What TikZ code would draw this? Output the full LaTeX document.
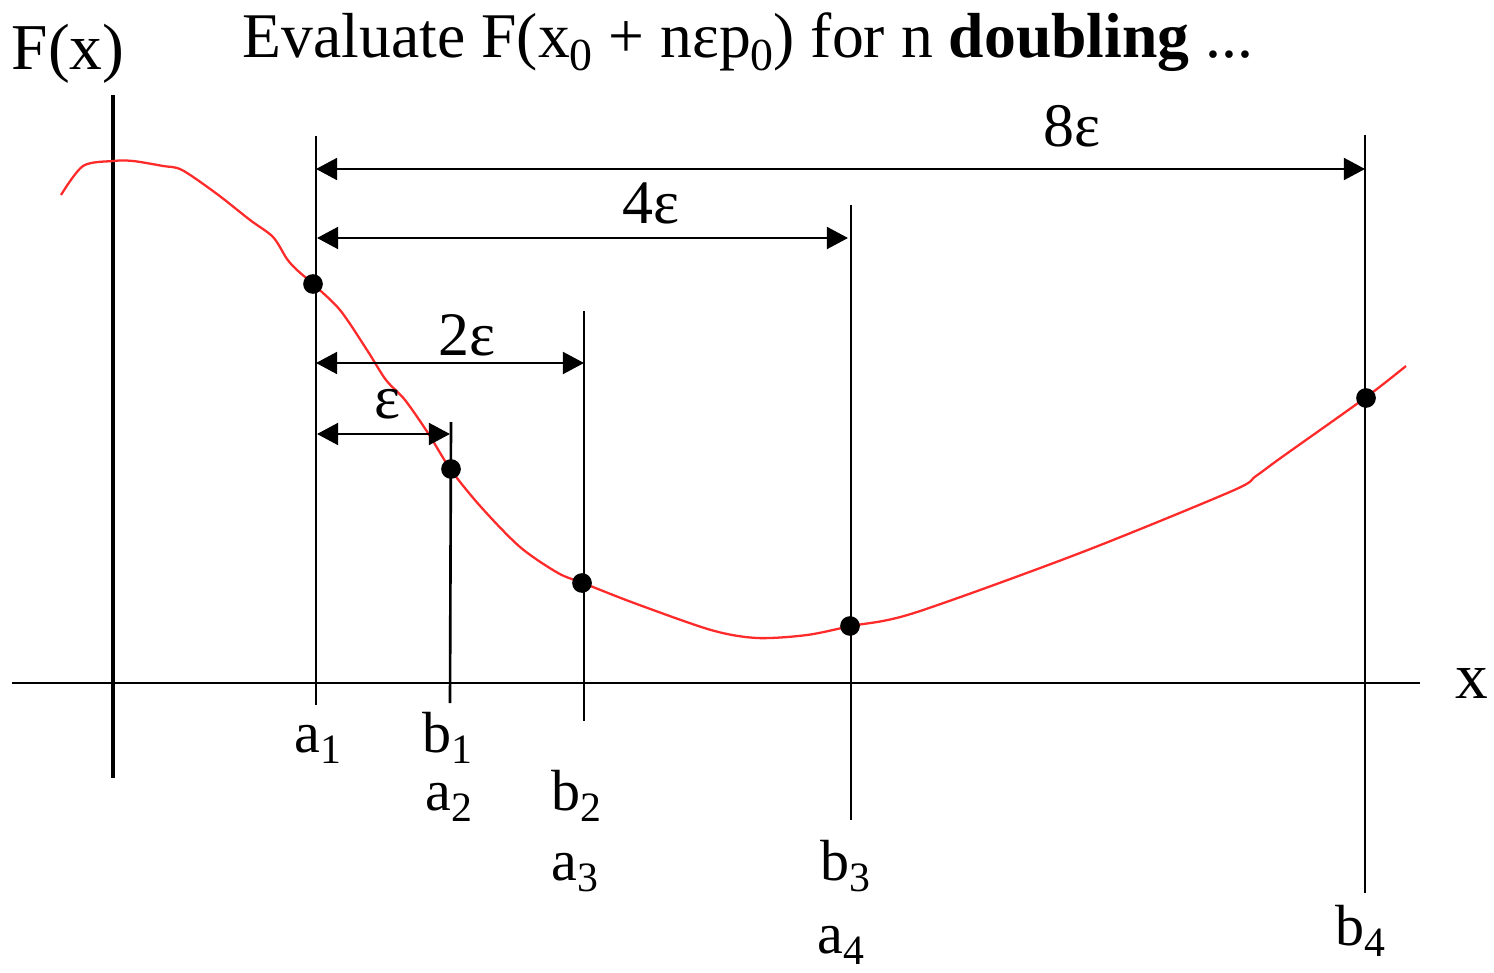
\documentclass[tikz,border=0pt]{standalone}
\usepackage{fontspec}
\setmainfont{Liberation Serif}
\usetikzlibrary{arrows.meta}
\definecolor{curvered}{HTML}{FF2A2A}
\newcommand{\lowix}[1]{\raisebox{-0.2em}{\scalebox{0.72}{#1}}}

\begin{document}
\begin{tikzpicture}[x=0.01cm, y=-0.01cm,
    font=\fontsize{16.5}{19}\selectfont,
    guide/.style={line width=0.75pt},
    dimarrow/.style={line width=0.75pt, {Triangle[length=6pt,width=6.2pt]}-{Triangle[length=6pt,width=6.2pt]}},
    dot/.style={circle, fill=black, inner sep=0pt, minimum size=5.6pt},
    bigtxt/.style={font=\fontsize{18.6}{22}\selectfont},
    steplbl/.style={anchor=base, font=\fontsize{17.6}{20}\selectfont}]
  \useasboundingbox (0,0) rectangle (1494,973);

  % Title
  \node[anchor=base, font=\fontsize{18.1}{20}\selectfont] (title) at (748,58)
    {Evaluate F(x\lowix{0} + nεp\lowix{0}) for n \textbf{doubling} ...};

  % Axes
  \coordinate (ytop) at (113,95);
  \coordinate (ybot) at (113,778);
  \coordinate (xleft) at (12,683);
  \coordinate (xright) at (1420,683);
  \draw[line width=1.25pt] (ybot) -- (ytop);
  \draw[guide] (xleft) -- (xright);
  \node[bigtxt, anchor=base] (fxlbl) at (68,70) {F(x)};
  \node[bigtxt, anchor=base] (xlbl) at (1472,698) {x};

  % Function
  \draw[curvered, line width=0.65pt] plot[smooth, tension=0.5] coordinates {
    (61,195) (83,166) (113,161) (133,161) (163,166) (182,170) (217,194)
    (250,220) (273,237) (287,259) (297,270) (313,284) (340,310) (367,350)
    (386,380) (405,400) (428,433) (451,470) (481,507) (520,547) (558,573)
    (583,583) (634,603) (711,630) (757,638) (807,635) (851,626) (914,613)
    (1080,553) (1232,491) (1256,476) (1282,457) (1365,398) (1406,366)};

  % Bracket lines
  \coordinate (a1top) at (316,136);  \coordinate (a1bot) at (316,705);
  \coordinate (b1top) at (451,422);  \coordinate (b1bot) at (450,703);
  \coordinate (b2top) at (584,311);  \coordinate (b2bot) at (584,721);
  \coordinate (b3top) at (851,205);  \coordinate (b3bot) at (851,820);
  \coordinate (b4top) at (1365,135); \coordinate (b4bot) at (1365,893);
  \draw[guide] (a1top) -- (a1bot);
  \draw[guide] (b1top) -- (b1bot);
  \draw[guide] (b2top) -- (b2bot);
  \draw[guide] (b3top) -- (b3bot);
  \draw[guide] (b4top) -- (b4bot);

  % Step arrows
  \coordinate (s8l) at (316,169); \coordinate (s8r) at (1365,169);
  \coordinate (s4l) at (317,238); \coordinate (s4r) at (848,238);
  \coordinate (s2l) at (316,363); \coordinate (s2r) at (584,363);
  \coordinate (s1l) at (317,434); \coordinate (s1r) at (450,434);
  \draw[dimarrow] (s8l) -- (s8r);
  \draw[dimarrow] (s4l) -- (s4r);
  \draw[dimarrow] (s2l) -- (s2r);
  \draw[dimarrow] (s1l) -- (s1r);
  \node[steplbl] (lbl8) at (1072,147) {8ε};
  \node[steplbl] (lbl4) at (651,223) {4ε};
  \node[steplbl] (lbl2) at (467,355) {2ε};
  \node[steplbl] (lbl1) at (387,418) {ε};

  % Sample points
  \node[dot] (p1) at (313,284) {};
  \node[dot] (p2) at (451,469) {};
  \node[dot] (p3) at (582,583) {};
  \node[dot] (p4) at (850,626) {};
  \node[dot] (p5) at (1366,398) {};

  % Interval ends
  \node[anchor=base] (a1) at (318,752) {a\lowix{1}};
  \node[anchor=base] (b1) at (447,752) {b\lowix{1}};
  \node[anchor=base] (a2) at (449,810) {a\lowix{2}};
  \node[anchor=base] (b2) at (576,810) {b\lowix{2}};
  \node[anchor=base] (a3) at (575,880) {a\lowix{3}};
  \node[anchor=base] (b3) at (845,880) {b\lowix{3}};
  \node[anchor=base] (a4) at (841,953) {a\lowix{4}};
  \node[anchor=base] (b4) at (1360,945) {b\lowix{4}};
\end{tikzpicture}
\end{document}
